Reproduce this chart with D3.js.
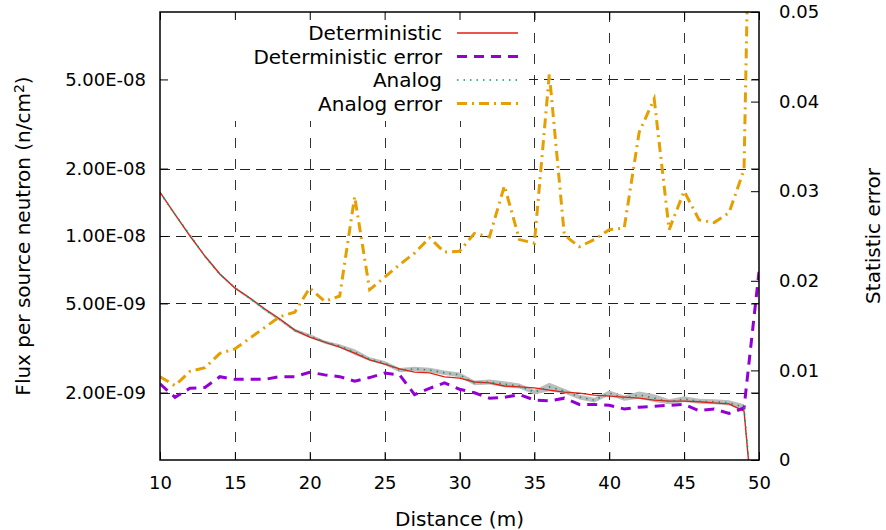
<!DOCTYPE html>
<html>
<head>
<meta charset="utf-8">
<script src="https://d3js.org/d3.v7.min.js"></script>
<style>
  body { margin: 0; background: #fff; }
  text { font-family: "DejaVu Sans", sans-serif; fill: #000; }
</style>
</head>
<body>
<script>
// distance along the shield (m)
var distance = [10, 11, 12, 13, 14, 15, 16, 17, 18, 19,
                20, 21, 22, 23, 24, 25, 26, 27, 28, 29,
                30, 31, 32, 33, 34, 35, 36, 37, 38, 39,
                40, 41, 42, 43, 44, 45, 46, 47, 48, 49, 50];

var deterministic = [1.57e-8, 1.25e-8, 1.0e-8, 8.14e-9, 6.77e-9, 5.86e-9, 5.29e-9, 4.72e-9, 4.26e-9, 3.80e-9,
                     3.54e-9, 3.36e-9, 3.19e-9, 3.00e-9, 2.80e-9, 2.68e-9, 2.55e-9, 2.47e-9, 2.45e-9, 2.35e-9,
                     2.32e-9, 2.23e-9, 2.21e-9, 2.14e-9, 2.12e-9, 2.10e-9, 2.05e-9, 2.01e-9, 1.99e-9, 1.95e-9,
                     1.93e-9, 1.91e-9, 1.89e-9, 1.85e-9, 1.83e-9, 1.83e-9, 1.82e-9, 1.80e-9, 1.78e-9, 1.65e-9, 3.0e-10];

var deterministicError = [0.0085, 0.0070, 0.0080, 0.0081, 0.0093, 0.0090, 0.0090, 0.0090, 0.0093, 0.0093,
                          0.0098, 0.0095, 0.0093, 0.0088, 0.0092, 0.0097, 0.0095, 0.0073, 0.0080, 0.0086,
                          0.0079, 0.0075, 0.0069, 0.0070, 0.0073, 0.0067, 0.0066, 0.0069, 0.0062, 0.0062,
                          0.0061, 0.0057, 0.0059, 0.0060, 0.0061, 0.0062, 0.0055, 0.0057, 0.0052, 0.0058, 0.021];

var analog = [1.56e-8, 1.25e-8, 1.01e-8, 8.10e-9, 6.74e-9, 5.87e-9, 5.27e-9, 4.70e-9, 4.24e-9, 3.79e-9,
              3.58e-9, 3.36e-9, 3.23e-9, 3.03e-9, 2.82e-9, 2.71e-9, 2.52e-9, 2.55e-9, 2.52e-9, 2.45e-9,
              2.40e-9, 2.21e-9, 2.23e-9, 2.18e-9, 2.14e-9, 2.01e-9, 2.12e-9, 2.03e-9, 1.91e-9, 1.85e-9,
              1.99e-9, 1.89e-9, 1.95e-9, 1.89e-9, 1.82e-9, 1.87e-9, 1.83e-9, 1.82e-9, 1.80e-9, 1.72e-9, 3.0e-10];

var analogError = [0.0093, 0.0083, 0.0099, 0.0103, 0.0119, 0.0124, 0.0136, 0.0148, 0.0160, 0.0165,
                   0.0192, 0.0177, 0.0183, 0.0294, 0.0190, 0.0204, 0.0218, 0.0231, 0.0248, 0.0232,
                   0.0233, 0.0253, 0.0249, 0.0306, 0.0246, 0.0242, 0.0431, 0.0251, 0.0238, 0.0246,
                   0.0257, 0.0259, 0.0366, 0.0403, 0.0257, 0.0300, 0.0268, 0.0265, 0.0276, 0.0324, 0.12];

var distanceTicks = [10, 15, 20, 25, 30, 35, 40, 45, 50];
var fluxTicks = [5e-8, 2e-8, 1e-8, 5e-9, 2e-9];
var fluxTickLabels = ["5.00E-08", "2.00E-08", "1.00E-08", "5.00E-09", "2.00E-09"];
var errorTicks = [0, 0.01, 0.02, 0.03, 0.04, 0.05];

var seriesNames = ["Deterministic", "Deterministic error", "Analog", "Analog error"];

var width = 886, height = 530,
    plotL = 160, plotR = 759, plotT = 12, plotB = 460,
    tickFont = 18, labelFont = 20;

var x = d3.scaleLinear().domain([10, 50]).range([plotL, plotR]);
var y = d3.scaleLog().domain([1e-9, 1e-7]).range([plotB, plotT]);
var y2 = d3.scaleLinear().domain([0, 0.05]).range([plotB, plotT]);

var svg = d3.select("body").append("svg")
    .attr("width", width)
    .attr("height", height);

svg.append("defs").append("clipPath")
    .attr("id", "plotclip")
  .append("rect")
    .attr("x", plotL).attr("y", plotT)
    .attr("width", plotR - plotL).attr("height", plotB - plotT);

// grid
var grid = svg.append("g");
grid.selectAll(".vgrid")
  .data(distanceTicks.slice(1, -1))
  .enter().append("line")
    .attr("x1", function(d) { return Math.round(x(d)) + 0.5; })
    .attr("x2", function(d) { return Math.round(x(d)) + 0.5; })
    .attr("y1", plotT).attr("y2", plotB)
    .style("stroke", "#333")
    .style("stroke-dasharray", "10,11");
grid.selectAll(".hgrid")
  .data(fluxTicks)
  .enter().append("line")
    .attr("x1", plotL).attr("x2", plotR)
    .attr("y1", function(d) { return Math.round(y(d)) + 0.5; })
    .attr("y2", function(d) { return Math.round(y(d)) + 0.5; })
    .style("stroke", "#222")
    .style("stroke-dasharray", "10,6");

// opaque key box
svg.append("rect")
    .attr("x", plotL + 1).attr("y", plotT + 1)
    .attr("width", 528 - plotL).attr("height", 120 - plotT)
    .style("fill", "#fff");

var rows = distance.map(function(d, i) {
  return {x: d, det: deterministic[i], detErr: deterministicError[i],
          ana: analog[i], anaErr: analogError[i]};
});

var plot = svg.append("g").attr("clip-path", "url(#plotclip)");

var band = d3.area()
    .x(function(d) { return x(d.x); })
    .y0(function(d) { return y(d.ana * (1 - d.anaErr)); })
    .y1(function(d) { return y(d.ana * (1 + d.anaErr)); });

plot.append("path")
    .datum(rows)
    .attr("d", band)
    .style("fill", "#bdbdbd")
    .style("stroke", "none");

var styles = [
  {key: "det", axis: y, color: "#e51e10", width: 1.3, dash: null},
  {key: "detErr", axis: y2, color: "#9400d3", width: 3, dash: "10,7"},
  {key: "ana", axis: y, color: "#009e73", width: 1.6, dash: "1.5,5"},
  {key: "anaErr", axis: y2, color: "#e69f00", width: 3, dash: "10,5,2,5"}
];

styles.forEach(function(s) {
  var line = d3.line()
      .x(function(d) { return x(d.x); })
      .y(function(d) { return s.axis(d[s.key]); });
  plot.append("path")
      .datum(rows)
      .attr("d", line)
      .style("fill", "none")
      .style("stroke", s.color)
      .style("stroke-width", s.width)
      .style("stroke-dasharray", s.dash);
});

// axes, ticks pointing inward
function styleAxis(g) {
  g.select(".domain").remove();
  g.selectAll(".tick line").style("stroke", "#000").style("stroke-width", 1);
  g.selectAll("text").style("font-size", tickFont + "px").style("font-family", "DejaVu Sans");
}

svg.append("g")
    .attr("transform", "translate(0," + plotB + ")")
    .call(d3.axisBottom(x).tickValues(distanceTicks).tickSize(-8).tickPadding(16))
    .call(styleAxis);

svg.append("g")
    .attr("transform", "translate(0," + plotT + ")")
    .call(d3.axisTop(x).tickValues(distanceTicks).tickSize(-8).tickFormat(""))
    .call(styleAxis);

svg.append("g")
    .attr("transform", "translate(" + plotL + ",0)")
    .call(d3.axisLeft(y).tickValues(fluxTicks).tickSize(-8).tickPadding(14)
      .tickFormat(function(d, i) { return fluxTickLabels[i]; }))
    .call(styleAxis);

svg.append("g")
    .attr("transform", "translate(" + plotR + ",0)")
    .call(d3.axisRight(y).tickValues(fluxTicks).tickSize(-8).tickFormat(""))
    .call(styleAxis);

svg.append("g")
    .attr("transform", "translate(" + plotR + ",0)")
    .call(d3.axisRight(y2).tickValues(errorTicks).tickSize(-8).tickPadding(20)
      .tickFormat(function(d) { return d === 0 ? "0" : d3.format(".2f")(d); }))
    .call(styleAxis);

// border
svg.append("rect")
    .attr("x", plotL).attr("y", plotT)
    .attr("width", plotR - plotL).attr("height", plotB - plotT)
    .style("fill", "none")
    .style("stroke", "#000")
    .style("stroke-width", 1.5);

// axis titles
svg.append("text")
    .attr("x", (plotL + plotR) / 2).attr("y", 519)
    .attr("dy", "0.35em")
    .attr("text-anchor", "middle")
    .style("font-size", labelFont + "px")
    .text("Distance (m)");

var ylab = svg.append("text")
    .attr("transform", "translate(23," + (plotT + plotB) / 2 + ") rotate(-90)")
    .attr("dy", "0.35em")
    .attr("text-anchor", "middle")
    .style("font-size", labelFont + "px");
ylab.append("tspan").text("Flux per source neutron (n/cm");
ylab.append("tspan").attr("dy", "-0.45em").style("font-size", "14px").text("2");
ylab.append("tspan").attr("dy", "0.3em").text(")");

svg.append("text")
    .attr("transform", "translate(874," + (plotT + plotB) / 2 + ") rotate(-90)")
    .attr("dy", "0.3em")
    .attr("text-anchor", "middle")
    .style("font-size", labelFont + "px")
    .text("Statistic error");

// key
var key = svg.append("g").selectAll("g")
  .data(styles)
  .enter().append("g")
    .attr("transform", function(d, i) { return "translate(0," + (33 + i * 23.5) + ")"; });

key.append("text")
    .attr("x", 442)
    .attr("dy", "0.35em")
    .attr("text-anchor", "end")
    .style("font-size", labelFont + "px")
    .text(function(d, i) { return seriesNames[i]; });

key.append("line")
    .attr("x1", 457).attr("x2", 518)
    .style("stroke", function(d) { return d.color; })
    .style("stroke-width", function(d) { return d.width; })
    .style("stroke-dasharray", function(d) { return d.dash; });
</script>
</body>
</html>
